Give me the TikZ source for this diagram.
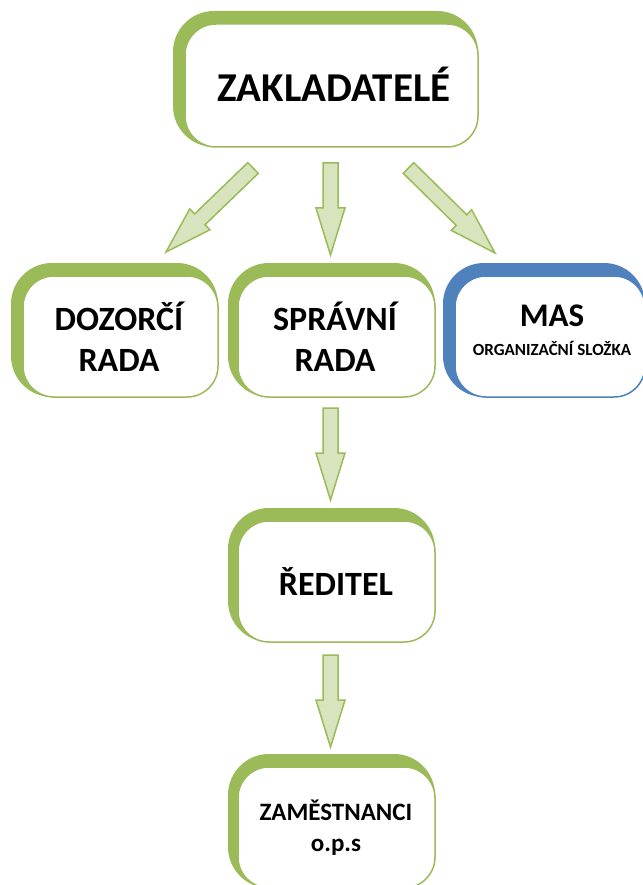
\documentclass[tikz,border=0pt]{standalone}
\usepackage{fontspec}
\setmainfont{Carlito}
\usetikzlibrary{calc}
\definecolor{boxgreen}{HTML}{9BBB59}
\definecolor{boxblue}{HTML}{4F81BD}
\definecolor{arrowfill}{HTML}{D7E4BD}
\tikzset{
  backbox/.style={rounded corners=41pt, inner sep=0pt, minimum height=134pt, fill=#1, draw=none},
  frontbox/.style={rounded corners=31pt, inner sep=0pt, minimum height=121pt, draw=#1, fill=white, line width=1.5pt},
  lbl/.style={anchor=base, inner sep=0pt, text=black},
  blockarr/.style={draw=boxgreen, fill=arrowfill, line width=1.5pt, line join=miter},
}
\newcommand\blockarrow[2]{%
  \coordinate (#1-#2-h) at ($(#2)!47pt!(#1)$);
  \draw[blockarr] ($(#1)!7.5pt!90:(#2)$) -- ($(#1-#2-h)!7.5pt!90:(#2)$)
    -- ($(#1-#2-h)!14.5pt!90:(#2)$) -- (#2)
    -- ($(#1-#2-h)!14.5pt!-90:(#2)$) -- ($(#1-#2-h)!7.5pt!-90:(#2)$)
    -- ($(#1)!7.5pt!-90:(#2)$) -- cycle;}
\begin{document}
\begin{tikzpicture}[x=1pt, y=-1pt]
\useasboundingbox[fill=white] (0,0) rectangle (642,885);

% ZAKLADATELE
\node[backbox=boxgreen, minimum width=305pt, minimum height=136pt] (zak-back) at (325.5,79) {};
\node[frontbox=boxgreen, minimum width=293pt, minimum height=123pt] (zak) at (331.5,85.5) {};
\node[lbl, font=\bfseries\fontsize{41}{48}\selectfont] (zak-t) at (334,102) {ZAKLADATELÉ};

% DOZORCI RADA
\node[backbox=boxgreen, minimum width=207pt] (doz-back) at (114.5,330) {};
\node[frontbox=boxgreen, minimum width=195pt] (doz) at (120.5,336.5) {};
\node[lbl, font=\bfseries\fontsize{34}{41}\selectfont] (doz-t1) at (119,330) {DOZORČÍ};
\node[lbl, font=\bfseries\fontsize{34}{41}\selectfont] (doz-t2) at (119,371) {RADA};

% SPRAVNI RADA
\node[backbox=boxgreen, minimum width=207pt] (spr-back) at (331.5,330) {};
\node[frontbox=boxgreen, minimum width=197pt] (spr) at (336.5,336.5) {};
\node[lbl, font=\bfseries\fontsize{34}{41}\selectfont] (spr-t1) at (335,330) {SPRÁVNÍ};
\node[lbl, font=\bfseries\fontsize{34}{41}\selectfont] (spr-t2) at (335,371) {RADA};

% MAS
\node[backbox=boxblue, minimum width=202pt] (mas-back) at (544,330) {};
\node[frontbox=boxblue, minimum width=190pt] (mas) at (550,336.5) {};
\node[lbl, font=\bfseries\fontsize{33}{40}\selectfont] (mas-t1) at (552,326) {MAS};
\node[lbl, font=\bfseries\fontsize{17}{20}\selectfont] (mas-t2) at (552,355) {ORGANIZAČNÍ SLOŽKA};

% REDITEL
\node[backbox=boxgreen, minimum width=207pt] (red-back) at (331.5,575) {};
\node[frontbox=boxgreen, minimum width=197pt] (red) at (336.5,581.5) {};
\node[lbl, font=\bfseries\fontsize{34}{41}\selectfont] (red-t) at (336,595) {ŘEDITEL};

% ZAMESTNANCI
\node[backbox=boxgreen, minimum width=207pt] (zam-back) at (331.5,821) {};
\node[frontbox=boxgreen, minimum width=197pt] (zam) at (336.5,827.5) {};
\node[lbl, font=\bfseries\fontsize{25}{30}\selectfont] (zam-t1) at (336,820) {ZAMĚSTNANCI};
\node[lbl, font=\bfseries\fontsize{25}{30}\selectfont] (zam-t2) at (336,851) {o.p.s};

% arrows
\coordinate (a1s) at (253,168);   \coordinate (a1e) at (166,252);
\coordinate (a2s) at (330.5,163); \coordinate (a2e) at (330.5,255);
\coordinate (a3s) at (408.5,168); \coordinate (a3e) at (495,253);
\coordinate (a4s) at (330.5,408); \coordinate (a4e) at (330.5,500);
\coordinate (a5s) at (330.5,655); \coordinate (a5e) at (330.5,747);
\blockarrow{a1s}{a1e}
\blockarrow{a2s}{a2e}
\blockarrow{a3s}{a3e}
\blockarrow{a4s}{a4e}
\blockarrow{a5s}{a5e}
\end{tikzpicture}
\end{document}
